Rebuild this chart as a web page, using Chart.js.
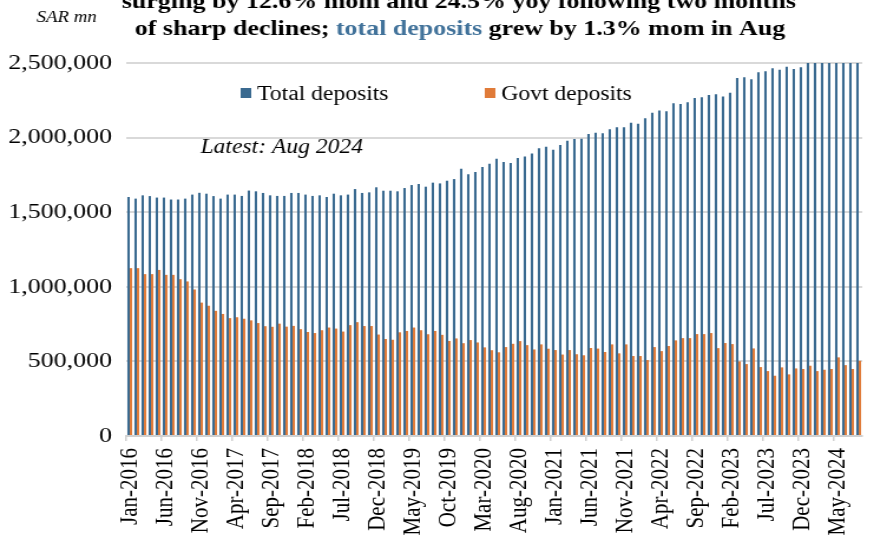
<!DOCTYPE html>
<html>
<head>
<meta charset="utf-8">
<script src="https://cdn.jsdelivr.net/npm/chart.js@4.4.1/dist/chart.umd.min.js"></script>
<style>
html, body { margin: 0; padding: 0; background: #fff; overflow: hidden; }
/* the source picture is stretched sideways, so the chart is drawn narrow and widened */
#wrap { width: 741px; height: 548px; transform: scaleX(1.1795); transform-origin: 0 0; }
</style>
</head>
<body>
<div id="wrap"><canvas id="canvas1"></canvas></div>
<script>
var months = [
	'Jan-2016','Feb-2016','Mar-2016','Apr-2016','May-2016','Jun-2016','Jul-2016','Aug-2016','Sep-2016','Oct-2016','Nov-2016','Dec-2016',
	'Jan-2017','Feb-2017','Mar-2017','Apr-2017','May-2017','Jun-2017','Jul-2017','Aug-2017','Sep-2017','Oct-2017','Nov-2017','Dec-2017',
	'Jan-2018','Feb-2018','Mar-2018','Apr-2018','May-2018','Jun-2018','Jul-2018','Aug-2018','Sep-2018','Oct-2018','Nov-2018','Dec-2018',
	'Jan-2019','Feb-2019','Mar-2019','Apr-2019','May-2019','Jun-2019','Jul-2019','Aug-2019','Sep-2019','Oct-2019','Nov-2019','Dec-2019',
	'Jan-2020','Feb-2020','Mar-2020','Apr-2020','May-2020','Jun-2020','Jul-2020','Aug-2020','Sep-2020','Oct-2020','Nov-2020','Dec-2020',
	'Jan-2021','Feb-2021','Mar-2021','Apr-2021','May-2021','Jun-2021','Jul-2021','Aug-2021','Sep-2021','Oct-2021','Nov-2021','Dec-2021',
	'Jan-2022','Feb-2022','Mar-2022','Apr-2022','May-2022','Jun-2022','Jul-2022','Aug-2022','Sep-2022','Oct-2022','Nov-2022','Dec-2022',
	'Jan-2023','Feb-2023','Mar-2023','Apr-2023','May-2023','Jun-2023','Jul-2023','Aug-2023','Sep-2023','Oct-2023','Nov-2023','Dec-2023',
	'Jan-2024','Feb-2024','Mar-2024','Apr-2024','May-2024','Jun-2024','Jul-2024','Aug-2024'
];

// SAR mn
var totalDeposits = [
	1602000,1591000,1613000,1608000,1598000,1598000,1585000,1585000,1591000,1618000,1630000,1624000,
	1608000,1591000,1618000,1618000,1609000,1645000,1640000,1629000,1613000,1609000,1609000,1629000,
	1629000,1618000,1609000,1613000,1602000,1624000,1613000,1618000,1655000,1629000,1633000,1667000,
	1644000,1644000,1640000,1662000,1682000,1689000,1671000,1698000,1693000,1711000,1722000,1792000,
	1754000,1769000,1803000,1825000,1859000,1836000,1830000,1863000,1874000,1894000,1928000,1939000,
	1919000,1950000,1979000,1990000,1992000,2024000,2033000,2029000,2056000,2069000,2069000,2100000,
	2092000,2129000,2167000,2181000,2176000,2230000,2225000,2237000,2266000,2270000,2286000,2290000,
	2275000,2301000,2400000,2404000,2391000,2438000,2444000,2464000,2455000,2475000,2460000,2471000,
	2520000,2540000,2555000,2580000,2600000,2615000,2640000,2675000
];

var govtDeposits = [
	1125000,1125000,1085000,1085000,1113000,1080000,1080000,1051000,1036000,982000,894000,873000,
	839000,818000,790000,796000,786000,775000,757000,736000,732000,753000,733000,738000,
	716000,697000,690000,709000,727000,720000,700000,743000,763000,737000,737000,680000,
	650000,645000,695000,704000,727000,709000,682000,704000,678000,637000,654000,622000,
	643000,627000,594000,575000,561000,596000,618000,636000,609000,580000,614000,585000,
	576000,546000,576000,548000,541000,590000,586000,563000,614000,554000,614000,536000,
	536000,509000,596000,569000,603000,641000,656000,656000,683000,683000,690000,589000,
	623000,616000,500000,482000,587000,462000,435000,404000,460000,413000,453000,449000,
	471000,435000,444000,449000,527000,475000,449000,504000
];

var yTicks = [0, 500000, 1000000, 1500000, 2000000, 2500000];

var blue = '#3a6a90';
var orange = '#e07b39';
var serif = "'Liberation Serif', 'Times New Roman', serif";

// title, unit, note and legend, drawn over the chart
var overlayText = {
	id: 'overlayText',
	afterDraw: function(chart) {
		var ctx = chart.ctx;
		ctx.save();
		ctx.textBaseline = 'alphabetic';

		// title (its first line runs off the top of the picture)
		ctx.font = 'bold 22px ' + serif;
		ctx.fillStyle = '#000';
		ctx.textAlign = 'center';
		ctx.fillText('surging by 12.6% mom and 24.5% yoy following two months', 389, 8);

		var parts = [
			['of sharp declines; ', '#000'],
			['total deposits', '#41729a'],
			[' grew by 1.3% mom in Aug', '#000']
		];
		var w = 0;
		parts.forEach(function(p) { w += ctx.measureText(p[0]).width; });
		var x = 390 - w / 2;
		ctx.textAlign = 'left';
		parts.forEach(function(p) {
			ctx.fillStyle = p[1];
			ctx.fillText(p[0], x, 35);
			x += ctx.measureText(p[0]).width;
		});

		ctx.fillStyle = '#000';
		ctx.font = 'italic 16px ' + serif;
		ctx.fillText('SAR mn', 31, 22);

		ctx.font = 'italic 20px ' + serif;
		ctx.fillText('Latest: Aug 2024', 170, 153);

		// legend
		var legendX = [204, 411];
		ctx.font = '20px ' + serif;
		chart.data.datasets.forEach(function(ds, i) {
			ctx.fillStyle = ds.backgroundColor;
			ctx.fillRect(legendX[i], 88, 9, 10);
			ctx.fillStyle = '#000';
			ctx.fillText(ds.label, legendX[i] + 14, 100);
		});
		ctx.restore();
	}
};

var myChart = {
	type: 'bar',
	data: {
		labels: months,
		datasets: [
			{
				label: 'Total deposits',
				data: totalDeposits,
				backgroundColor: blue,
				barPercentage: 1,
				categoryPercentage: 0.68
			},
			{
				label: 'Govt deposits',
				data: govtDeposits,
				backgroundColor: orange,
				barPercentage: 1,
				categoryPercentage: 0.68
			}
		]
	},
	options: {
		responsive: true,
		maintainAspectRatio: false,
		animation: false,
		layout: { padding: { top: 63, right: 10, left: 0, bottom: 0 } },
		plugins: {
			legend: { display: false },
			tooltip: { enabled: false }
		},
		scales: {
			x: {
				offset: true,
				afterFit: function(scale) {
					scale.height = 112;
					scale.paddingLeft = 0;
					scale.paddingRight = 0;
				},
				grid: {
					offset: true,
					drawOnChartArea: false,
					tickLength: 5,
					lineWidth: 1.5,
					color: function(c) { return c.index % 5 === 0 ? '#d0d0d0' : 'rgba(0,0,0,0)'; }
				},
				border: { display: true, color: '#d0d0d0', width: 2 },
				ticks: {
					autoSkip: false,
					maxRotation: 90,
					minRotation: 90,
					padding: 7,
					color: '#000',
					font: { family: serif, size: 21 },
					callback: function(val, i) { return i % 5 === 0 ? this.getLabelForValue(val) : ''; }
				}
			},
			y: {
				min: 0,
				max: 2500000,
				afterFit: function(scale) { scale.width = 107; },
				afterBuildTicks: function(scale) {
					scale.ticks = yTicks.map(function(v) { return { value: v }; });
				},
				grid: { color: '#d9d9d9', lineWidth: 2, drawTicks: false },
				border: { display: false },
				ticks: {
					padding: 12,
					color: '#000',
					font: { family: serif, size: 22 },
					callback: function(v) { return v.toLocaleString('en-US'); }
				}
			}
		}
	},
	plugins: [overlayText]
};

window.onload = function() {
	var ctx = document.getElementById('canvas1').getContext('2d');
	new Chart(ctx, myChart);
};
</script>
</body>
</html>
